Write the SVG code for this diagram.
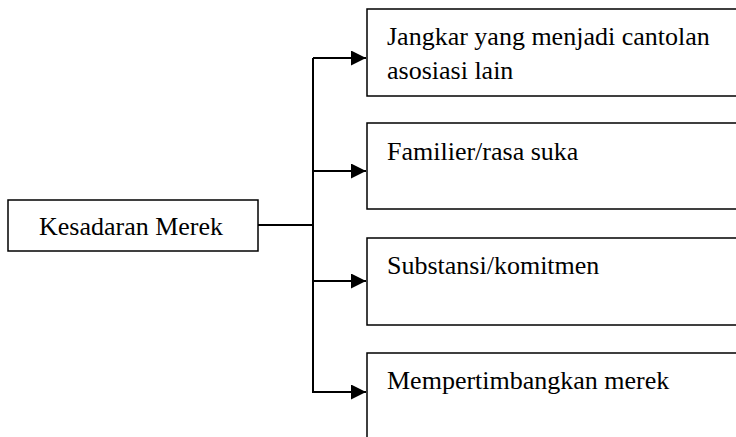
<svg xmlns="http://www.w3.org/2000/svg" width="736" height="437" viewBox="0 0 736 437">
<style>
.box{fill:#fff;stroke:#000;stroke-width:1.5}
.t{font-family:"Liberation Serif","Times New Roman",serif;font-size:26px;fill:#000}
.c{fill:none;stroke:#000;stroke-width:2}
</style>
<defs>
<marker id="ah" markerUnits="userSpaceOnUse" markerWidth="16" markerHeight="16" refX="15" refY="7.5" orient="auto">
<path d="M0,0 L15,7.5 L0,15 Z" fill="#000"/>
</marker>
</defs>
<rect width="736" height="437" fill="#fff"/>
<g id="n0">
<rect class="box" x="8" y="200" width="250" height="51"/>
<text class="t" x="39" y="235">Kesadaran Merek</text>
</g>
<g id="n1">
<rect class="box" x="367" y="9" width="380" height="87"/>
<text class="t" x="387" y="45">Jangkar yang menjadi cantolan</text>
<text class="t" x="387" y="79">asosiasi lain</text>
</g>
<g id="n2">
<rect class="box" x="367" y="123" width="380" height="86"/>
<text class="t" x="387" y="160">Familier/rasa suka</text>
</g>
<g id="n3">
<rect class="box" x="367" y="238" width="380" height="87"/>
<text class="t" x="387" y="274">Substansi/komitmen</text>
</g>
<g id="n4">
<rect class="box" x="367" y="353" width="380" height="100"/>
<text class="t" x="387" y="389">Mempertimbangkan merek</text>
</g>
<g id="connectors">
<path class="c" d="M258,225 H313"/>
<path class="c" d="M313,58 V392"/>
<path class="c" d="M313,58 H366" marker-end="url(#ah)"/>
<path class="c" d="M313,171 H366" marker-end="url(#ah)"/>
<path class="c" d="M313,281 H366" marker-end="url(#ah)"/>
<path class="c" d="M312,392 H366" marker-end="url(#ah)"/>
</g>
</svg>
